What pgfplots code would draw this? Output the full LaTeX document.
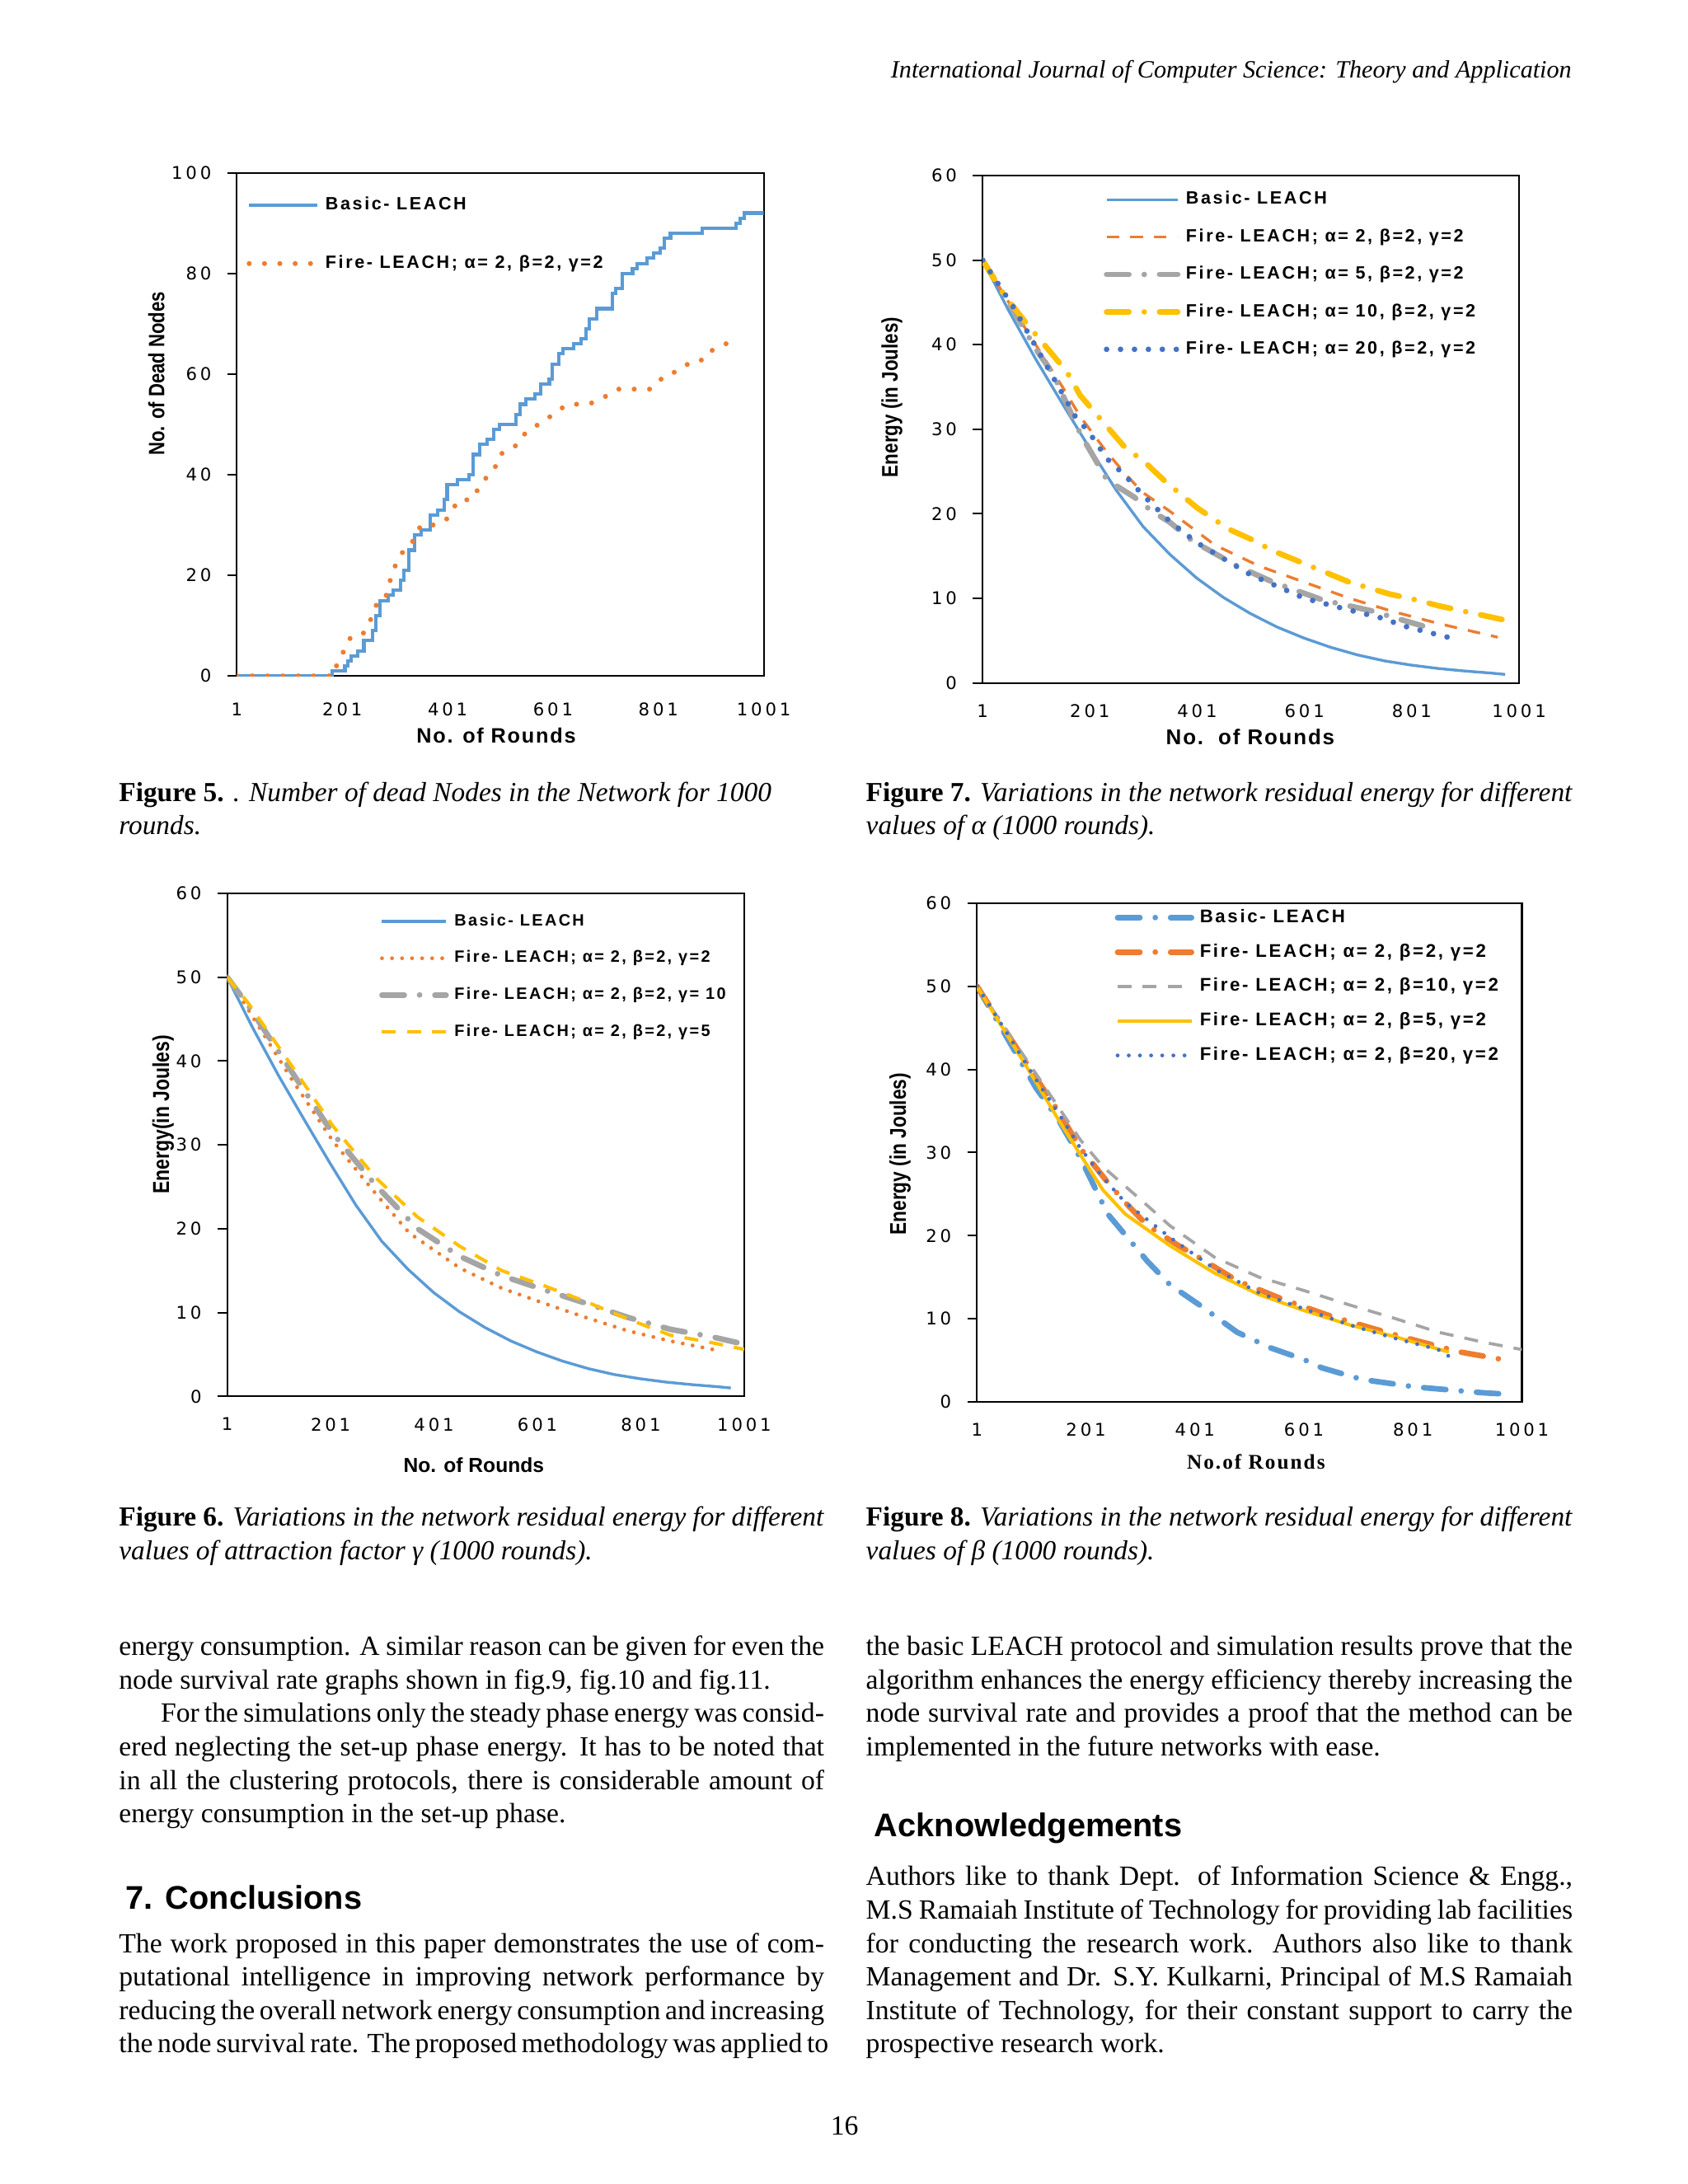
\documentclass[border=0pt]{standalone}
\usepackage{pgfplots}
\pgfplotsset{compat=1.18}
\usepackage{fontspec}
\setmainfont{Liberation Serif}
\newfontfamily\headfont{Liberation Sans}
\newfontfamily\legfont[LetterSpace=12]{Liberation Sans}
\newfontfamily\labfont[LetterSpace=7]{Liberation Sans}
\newfontfamily\tickfont[LetterSpace=18]{DejaVu Sans}
\newfontfamily\narrowsans[FakeStretch=0.82]{Liberation Sans}
\newfontfamily\serifwide[LetterSpace=8]{Liberation Serif}

\definecolor{lblue}{HTML}{5B9BD5}
\definecolor{dblue}{HTML}{4472C4}
\definecolor{xorange}{HTML}{ED7D31}
\definecolor{xgray}{HTML}{A5A5A5}
\definecolor{xyellow}{HTML}{FFC000}

\newcommand{\fs}[1]{\fontsize{#1}{#1}\selectfont}

\pgfplotsset{
  excel/.style={
    scale only axis, anchor=south west,
    xmin=1, xmax=1001, ymin=0,
    xtick={1,201,401,601,801,1001},
    /pgf/number format/assume math mode=true,
    /pgf/number format/1000 sep={},
    axis line style={black, line width=0.6bp},
    tick align=outside, major tick length=3.5bp,
    xtick pos=bottom, ytick pos=left,
    xtick style={draw=none},
    ytick style={black, line width=0.6bp},
    tick label style={font=\tickfont\fs{6.3}, inner sep=0pt},
    x tick label style={anchor=north, yshift=-4bp},
    y tick label style={anchor=east, xshift=-5.5bp},
    xlabel style={anchor=center},
    ylabel style={anchor=center},
    legend cell align=left,
    clip=true,
  },
  leg/.style n args={5}{% x, y, row sep, font size, image length
    legend style={draw=none, fill=none, inner sep=0pt, outer sep=0pt,
      at={(axis description cs:#1,#2)}, anchor=north west,
      row sep=#3, font=\legfont\bfseries\fs{#4},
      nodes={inner sep=0pt, text height=0.73*#4, text depth=0.2*#4}},
    legend image code/.code={\draw[##1] (0bp,0bp) -- (#5,0bp); \path (#5+2bp,0bp);},
  },
  ldots/.style={line width=1.8bp, line cap=round, dash pattern=on 0bp off 5.5bp},
  ldashdot/.style={line width=2bp, line cap=round, dash pattern=on 8bp off 5.5bp on 0bp off 5.5bp},
}

\newcommand{\jl}[4]{\node[anchor=base west, inner sep=0pt, font=\fs{10}] at (#1bp,-#2bp) {\makebox[#3bp][s]{#4}};}
\newcommand{\nl}[3]{\node[anchor=base west, inner sep=0pt, font=\fs{10}] at (#1bp,-#2bp) {#3};}
\newcommand{\cl}[3]{\node[anchor=base west, inner sep=0pt, font=\fs{9.9}] at (#1bp,-#2bp) {#3};}
\newcommand{\cj}[4]{\node[anchor=base west, inner sep=0pt, font=\fs{9.9}] at (#1bp,-#2bp) {\makebox[#3bp][s]{#4}};}

\begin{document}
\begin{tikzpicture}
\fill[white] (0,0) rectangle (605.5bp,-783.6bp);

% ---------------- Figure 5 ----------------
\begin{axis}[excel, at={(85bp,-242.5bp)}, width=189bp, height=180.5bp,
  ymax=100, ytick={0,20,...,100},
  x tick label style={yshift=-2bp},
  xlabel={\labfont\bfseries\fs{7.5}No. of Rounds},
  xlabel style={at={(axis description cs:0.492,-0.119)}},
  ylabel={\narrowsans\bfseries\fs{8}No. of Dead Nodes},
  ylabel style={at={(axis description cs:-0.153,0.601)}},
  leg={0.0185}{0.952}{15bp}{6.4}{24.5bp}]
\addplot[lblue, line width=1.2bp, const plot] coordinates {
(1,0) (182,1) (206,2) (212,3) (218,4) (230,5) (242,7) (258,9) (264,12) (272,15)
(288,16) (298,17) (312,19) (318,21) (328,25) (338,28) (350,29) (368,32) (382,33)
(394,35) (400,38) (420,39) (442,40) (450,44) (462,46) (476,47) (488,49) (500,50)
(530,52) (538,54) (550,55) (566,56) (578,58) (594,59) (600,62) (612,64) (620,65)
(640,66) (654,67) (664,69) (670,71) (684,73) (714,76) (720,77) (732,80) (752,81)
(760,82) (780,83) (792,84) (804,85) (812,87) (824,88) (884,89) (948,90) (956,91)
(964,92) (1001,92)};
\addlegendentry{Basic- LEACH}
\addplot[xorange, ldots] coordinates {
(1,0) (185,0) (190,2) (198,4) (208,5.5) (216,7.5) (238,8) (250,10) (258,12)
(265,14) (282,15) (289,18) (298,21) (306,23) (318,25) (330,26) (342,28) (350,30)
(378,30) (398,31) (410,33) (422,35) (446,35) (458,37) (470,39) (482,40) (494,42)
(500,44) (518,45) (534,46) (546,48) (562,49) (578,50.5) (595,51.5) (614,53)
(630,54) (669,54) (690,55) (709,56) (725,57) (785,57) (801,58.5) (817,60)
(837,60.5) (857,62) (881,62.5) (889,64) (909,65) (929,66) (953,67)};
\addlegendentry{Fire- LEACH; α= 2, β=2, γ=2}
\end{axis}

% ---------------- Figure 7 ----------------
\begin{axis}[excel, at={(352.5bp,-245bp)}, width=192.5bp, height=182bp,
  ymax=60, ytick={0,10,...,60},
  xlabel={\labfont\bfseries\fs{7.7}No.\ \ of Rounds},
  xlabel style={at={(axis description cs:0.499,-0.107)}},
  ylabel={\narrowsans\bfseries\fs{8.1}Energy (in Joules)},
  ylabel style={at={(axis description cs:-0.169,0.563)}},
  leg={0.226}{0.969}{7.5bp}{6.4}{25.5bp}]
\addplot[lblue, line width=1bp] coordinates {
(1,50) (50,44) (100,38.3) (150,33) (200,27.8) (250,22.8) (300,18.5) (350,15.2)
(400,12.4) (450,10.1) (500,8.2) (550,6.6) (600,5.3) (650,4.2) (700,3.3) (750,2.6)
(800,2.1) (850,1.7) (900,1.4) (950,1.15) (975,1.0)};
\addlegendentry{Basic- LEACH}
\addplot[xorange, line width=1bp, dash pattern=on 4.5bp off 4bp] coordinates {
(1,50) (50,45) (100,40) (150,35) (183,31.5) (230,27.5) (267,24.7) (300,22.5)
(350,20.3) (434,16.3) (517,13.8) (601,11.9) (685,10) (768,8.4) (852,7) (961,5.4)};
\addlegendentry{Fire- LEACH; α= 2, β=2, γ=2}
\addplot[xgray, ldashdot] coordinates {
(1,50) (50,45) (100,39.5) (133,36.5) (183,29.5) (233,24) (283,22) (317,20.3)
(350,19) (392,16.8) (476,13.8) (543,11.9) (635,9.8) (727,8.5) (785,7.4) (845,6.3)};
\addlegendentry{Fire- LEACH; α= 5, β=2, γ=2}
\addplot[xyellow, ldashdot] coordinates {
(1,50) (40,46) (83,42.5) (116,40) (158,36.8) (183,34) (221,31.2) (267,27.8)
(300,26.3) (342,23.8) (401,20.7) (459,18.2) (501,17) (543,15.6) (643,13)
(685,11.9) (760,10.5) (810,9.8) (852,9.1) (969,7.5)};
\addlegendentry{Fire- LEACH; α= 10, β=2, γ=2}
\addplot[dblue, line width=2bp, line cap=round, dash pattern=on 0bp off 5bp] coordinates {
(1,50) (58,44.5) (116,38) (174,31.5) (200,29.6) (233,26.5) (267,24.5) (300,22.2)
(350,19.1) (400,16.6) (450,14.7) (500,12.8) (551,11.4) (601,10) (685,8.6)
(743,7.7) (793,6.6) (868,5.4)};
\addlegendentry{Fire- LEACH; α= 20, β=2, γ=2}
\end{axis}

% ---------------- Figure 6 ----------------
\begin{axis}[excel, at={(81.5bp,-501bp)}, width=185.5bp, height=180.5bp,
  ymax=60, ytick={0,10,...,60},
  xlabel={\headfont\bfseries\fs{7.3}No. of Rounds},
  xlabel style={at={(axis description cs:0.477,-0.136)}},
  ylabel={\narrowsans\bfseries\fs{8.3}Energy(in Joules)},
  ylabel style={at={(axis description cs:-0.124,0.56)}},
  leg={0.294}{0.959}{7.7bp}{5.9}{23bp}]
\addplot[lblue, line width=1bp] coordinates {
(1,50) (50,44) (100,38.3) (150,33) (200,27.8) (250,22.8) (300,18.5) (350,15.2)
(400,12.4) (450,10.1) (500,8.2) (550,6.6) (600,5.3) (650,4.2) (700,3.3) (750,2.6)
(800,2.1) (850,1.7) (900,1.4) (950,1.15) (975,1.0)};
\addlegendentry{Basic- LEACH}
\addplot[xorange, line width=1.4bp, line cap=round, dash pattern=on 0bp off 3.6bp] coordinates {
(1,50) (43,46) (125,37.9) (206,30.4) (288,24.2) (353,19.5) (451,15.3) (532,12.9)
(614,11.1) (695,9.4) (777,7.8) (858,6.6) (956,5.4)};
\addlegendentry{Fire- LEACH; α= 2, β=2, γ=2}
\addplot[xgray, ldashdot] coordinates {
(1,50) (43,46.5) (125,38.8) (206,31.3) (288,25.2) (369,20) (451,16.7) (532,14.4)
(614,12.7) (695,11.1) (777,9.4) (858,8) (939,7.1) (988,6.4)};
\addlegendentry{Fire- LEACH; α= 2, β=2, γ= 10}
\addplot[xyellow, line width=1.2bp, dash pattern=on 5bp off 4bp] coordinates {
(1,50) (43,46.8) (125,39.5) (206,32.2) (288,26.1) (369,21.4) (451,17.9) (532,15)
(614,13.2) (695,11.3) (777,9.2) (858,7.3) (939,6.4) (1001,5.6)};
\addlegendentry{Fire- LEACH; α= 2, β=2, γ=5}
\end{axis}

% ---------------- Figure 8 ----------------
\begin{axis}[excel, at={(350.5bp,-503bp)}, width=195.5bp, height=179bp,
  ymax=60, ytick={0,10,...,60},
  xlabel={\serifwide\bfseries\fs{7.5}No.of Rounds},
  xlabel style={at={(axis description cs:0.512,-0.120)}},
  ylabel={\narrowsans\bfseries\fs{8.2}Energy (in Joules)},
  ylabel style={at={(axis description cs:-0.141,0.497)}},
  leg={0.253}{0.988}{6.25bp}{6.6}{26.5bp}]
\addplot[lblue, ldashdot] coordinates {
(1,50) (50,44.5) (109,37.8) (150,34) (191,29.3) (241,22.6) (314,16.9) (355,14.1)
(413,11.5) (478,8.4) (540,6.5) (601,5.1) (634,4.1) (708,2.7) (806,1.8) (930,1.1)
(983,0.9)};
\addlegendentry{Basic- LEACH}
\addplot[xorange, ldashdot] coordinates {
(1,50) (50,45) (109,39) (150,35) (191,30.5) (241,26.4) (273,24) (314,21.2)
(371,18.8) (413,17.2) (478,14.6) (560,12.4) (642,10.5) (724,8.9) (806,7.4)
(888,6) (966,5.1)};
\addlegendentry{Fire- LEACH; α= 2, β=2, γ=2}
\addplot[xgray, line width=1.1bp, dash pattern=on 5bp off 4bp] coordinates {
(1,50) (50,45.2) (109,39.5) (150,35.5) (191,31.5) (232,28.3) (314,23.6) (355,21.2)
(437,17.4) (519,15) (601,13.4) (683,11.7) (765,10.1) (847,8.4) (929,7.2)
(1001,6.3)};
\addlegendentry{Fire- LEACH; α= 2, β=10, γ=2}
\addplot[xyellow, line width=1.2bp] coordinates {
(1,50) (50,44.8) (109,38.5) (150,34) (191,29.7) (232,25.5) (273,22.6) (355,18.8)
(437,15.5) (519,12.9) (601,11) (683,9.3) (765,7.9) (867,6.0)};
\addlegendentry{Fire- LEACH; α= 2, β=5, γ=2}
\addplot[dblue, line width=1.4bp, line cap=round, dash pattern=on 0bp off 4bp] coordinates {
(1,50) (50,45) (109,38.8) (150,34.8) (191,30.5) (232,27) (273,24) (355,19.8)
(437,16) (519,13.1) (601,11.2) (683,9.3) (765,7.7) (847,6.3) (872,5.3)};
\addlegendentry{Fire- LEACH; α= 2, β=20, γ=2}
\end{axis}

% ---------------- page text ----------------
\node[anchor=base east, inner sep=0pt, font=\fs{8.95}] at (564bp,-28bp) {\itshape International Journal of Computer Science: Theory and Application};
\cl{42.5}{287.5}{\textbf{Figure 5.} \textit{. Number of dead Nodes in the Network for 1000}}
\cl{42.5}{299.5}{\textit{rounds.}}
\cj{310.5}{287.5}{253.5}{\textbf{Figure 7.} \textit{Variations in the network residual energy for different}}
\cl{310.5}{299.5}{\textit{values of α (1000 rounds).}}
\cj{42.5}{547.5}{253}{\textbf{Figure 6.} \textit{Variations in the network residual energy for different}}
\cl{42.5}{559.5}{\textit{values of attraction factor γ (1000 rounds).}}
\cj{310.5}{547.5}{253.5}{\textbf{Figure 8.} \textit{Variations in the network residual energy for different}}
\cl{310.5}{559.5}{\textit{values of β (1000 rounds).}}
\jl{42.5}{594}{253}{energy consumption. A similar reason can be given for even the}
\nl{42.5}{606}{node survival rate graphs shown in fig.9, fig.10 and fig.11.}
\jl{42.5}{618}{253}{\hspace{15bp}For the simulations only the steady phase energy was consid-}
\jl{42.5}{630}{253}{ered neglecting the set-up phase energy. It has to be noted that}
\jl{42.5}{642}{253}{in all the clustering protocols, there is considerable amount of}
\nl{42.5}{654}{energy consumption in the set-up phase.}
\node[anchor=base west, inner sep=0pt, font=\headfont\bfseries\fs{11.8}] at (45bp,-685bp) {7. Conclusions};
\jl{42.5}{700.5}{253}{The work proposed in this paper demonstrates the use of com-}
\jl{42.5}{712.5}{253}{putational intelligence in improving network performance by}
\jl{42.5}{724.5}{253}{reducing the overall network energy consumption and increasing}
\jl{42.5}{736.5}{253}{the node survival rate. The proposed methodology was applied to}
\jl{310.5}{594}{253.5}{the basic LEACH protocol and simulation results prove that the}
\jl{310.5}{606}{253.5}{algorithm enhances the energy efficiency thereby increasing the}
\jl{310.5}{618}{253.5}{node survival rate and provides a proof that the method can be}
\nl{310.5}{630}{implemented in the future networks with ease.}
\node[anchor=base west, inner sep=0pt, font=\headfont\bfseries\fs{11.8}] at (313.5bp,-659bp) {Acknowledgements};
\jl{310.5}{676.5}{253.5}{Authors like to thank Dept. of Information Science \& Engg.,}
\jl{310.5}{688.5}{253.5}{M.S Ramaiah Institute of Technology for providing lab facilities}
\jl{310.5}{700.5}{253.5}{for conducting the research work. Authors also like to thank}
\jl{310.5}{712.5}{253.5}{Management and Dr. S.Y. Kulkarni, Principal of M.S Ramaiah}
\jl{310.5}{724.5}{253.5}{Institute of Technology, for their constant support to carry the}
\nl{310.5}{736.5}{prospective research work.}
\node[anchor=base, inner sep=0pt, font=\fs{10}] at (303bp,-766bp) {16};
\end{tikzpicture}
\end{document}
